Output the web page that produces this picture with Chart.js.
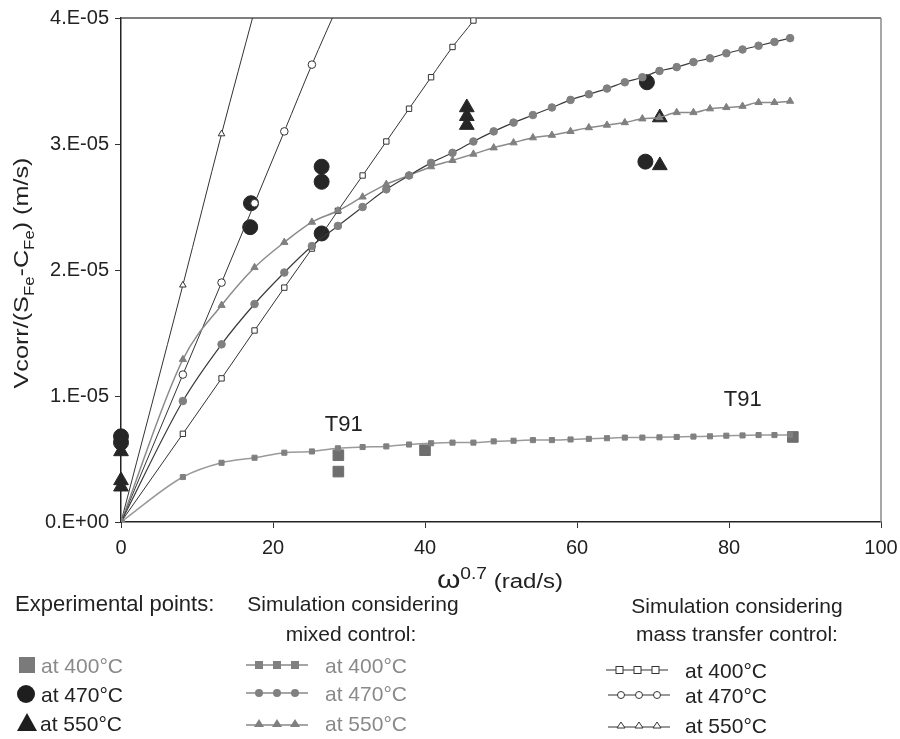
<!DOCTYPE html>
<html>
<head>
<meta charset="utf-8">
<script src="https://cdn.jsdelivr.net/npm/chart.js@4/dist/chart.umd.min.js"></script>
<style>
body { margin: 0; background: #fff; font-family: "Liberation Sans", Arial, sans-serif; }
#wrap { position: relative; width: 900px; height: 739px; overflow: hidden; }
#chart { position: absolute; left: 0; top: 0; }
.t { position: absolute; white-space: nowrap; font-size: 21px; color: #222; line-height: 1; }
.grey { color: #8a8a8a; }
.c { transform: translateX(-50%); }
.ytitle { left: 23px; top: 273px; font-size: 21px; transform: translate(-50%, -50%) rotate(-90deg) scaleX(1.2); }
.ytitle sub { font-size: 14px; }
.xtitle { left: 500px; top: 566px; font-size: 20px; transform: translateX(-50%) scaleX(1.2); }
.xtitle .w { font-size: 25px; }
.xtitle sup { font-size: 16px; vertical-align: 9px; }
svg { position: absolute; }
</style>
</head>
<body>
<div id="wrap">
  <canvas id="chart" width="900" height="739"></canvas>

  <div class="t ytitle">Vcorr/(S<sub>Fe</sub>-C<sub>Fe</sub>) (m/s)</div>
  <div class="t xtitle"><span class="w">ω</span><sup>0.7</sup> (rad/s)</div>

  <!-- legend: experimental points -->
  <div class="t" style="left:15px; top:593px; font-size:22px;">Experimental points:</div>
  <svg style="left:18px; top:656px;" width="18" height="18"><rect x="1" y="1" width="16" height="16" fill="#7a7a7a"/></svg>
  <div class="t grey" style="left:41px; top:655px;">at 400°C</div>
  <svg style="left:16px; top:684px;" width="20" height="20"><circle cx="10" cy="10" r="9" fill="#1e1e1e"/></svg>
  <div class="t" style="left:41px; top:684px;">at 470°C</div>
  <svg style="left:16px; top:712px;" width="22" height="20"><polygon points="11,1 21,19 1,19" fill="#1e1e1e"/></svg>
  <div class="t" style="left:40px; top:713px;">at 550°C</div>

  <!-- legend: mixed control -->
  <div class="t c" style="left:353px; top:593px;">Simulation considering</div>
  <div class="t c" style="left:351px; top:623px;">mixed control:</div>
  <svg style="left:246px; top:658px;" width="62" height="14">
    <line x1="0" y1="7" x2="62" y2="7" stroke="#888" stroke-width="1.5"/>
    <rect x="9" y="3" width="8" height="8" fill="#808080"/><rect x="27" y="3" width="8" height="8" fill="#808080"/><rect x="45" y="3" width="8" height="8" fill="#808080"/>
  </svg>
  <div class="t grey" style="left:325px; top:655px;">at 400°C</div>
  <svg style="left:246px; top:686px;" width="62" height="14">
    <line x1="0" y1="7" x2="62" y2="7" stroke="#888" stroke-width="1.5"/>
    <circle cx="13" cy="7" r="4" fill="#808080"/><circle cx="31" cy="7" r="4" fill="#808080"/><circle cx="49" cy="7" r="4" fill="#808080"/>
  </svg>
  <div class="t grey" style="left:325px; top:683px;">at 470°C</div>
  <svg style="left:246px; top:716px;" width="62" height="14">
    <line x1="0" y1="9" x2="62" y2="9" stroke="#888" stroke-width="1.5"/>
    <polygon points="13,3 18,11 8,11" fill="#808080"/><polygon points="31,3 36,11 26,11" fill="#808080"/><polygon points="49,3 54,11 44,11" fill="#808080"/>
  </svg>
  <div class="t grey" style="left:325px; top:713px;">at 550°C</div>

  <!-- legend: mass transfer control -->
  <div class="t c" style="left:737px; top:595px;">Simulation considering</div>
  <div class="t c" style="left:737px; top:623px;">mass transfer control:</div>
  <svg style="left:606px; top:663px;" width="62" height="14">
    <line x1="0" y1="7" x2="62" y2="7" stroke="#333" stroke-width="1"/>
    <rect x="10" y="3.5" width="7" height="7" fill="#fff" stroke="#333"/><rect x="28" y="3.5" width="7" height="7" fill="#fff" stroke="#333"/><rect x="46" y="3.5" width="7" height="7" fill="#fff" stroke="#333"/>
  </svg>
  <div class="t" style="left:685px; top:660px;">at 400°C</div>
  <svg style="left:608px; top:688px;" width="62" height="14">
    <line x1="0" y1="7" x2="62" y2="7" stroke="#333" stroke-width="1"/>
    <circle cx="13" cy="7" r="3.5" fill="#fff" stroke="#333"/><circle cx="31" cy="7" r="3.5" fill="#fff" stroke="#333"/><circle cx="49" cy="7" r="3.5" fill="#fff" stroke="#333"/>
  </svg>
  <div class="t" style="left:685px; top:685px;">at 470°C</div>
  <svg style="left:608px; top:718px;" width="62" height="14">
    <line x1="0" y1="9" x2="62" y2="9" stroke="#333" stroke-width="1"/>
    <polygon points="13,4 17,10 9,10" fill="#fff" stroke="#333"/><polygon points="31,4 35,10 27,10" fill="#fff" stroke="#333"/><polygon points="49,4 53,10 45,10" fill="#fff" stroke="#333"/>
  </svg>
  <div class="t" style="left:685px; top:715px;">at 550°C</div>
</div>

<script>
// x positions of the simulated points, omega^0.7
const omega07 = [0, 8.14, 13.23, 17.57, 21.49, 25.12, 28.54, 31.79, 34.91, 37.90, 40.80,
    43.62, 46.37, 49.04, 51.65, 54.20, 56.70, 59.15, 61.56, 63.94, 66.29,
    68.60, 70.85, 73.12, 75.32, 77.50, 79.65, 81.78, 83.89, 85.98, 88.04];

// simulation, mixed control (m/s)
const mixed400 = [0, 3.57e-6, 4.7e-6, 5.1e-6, 5.5e-6, 5.6e-6, 5.85e-6, 5.95e-6, 6.0e-6, 6.15e-6, 6.25e-6,
    6.3e-6, 6.3e-6, 6.4e-6, 6.45e-6, 6.5e-6, 6.5e-6, 6.55e-6, 6.6e-6, 6.65e-6, 6.7e-6,
    6.7e-6, 6.72e-6, 6.75e-6, 6.78e-6, 6.8e-6, 6.85e-6, 6.87e-6, 6.9e-6, 6.9e-6, 6.92e-6];
const mixed470 = [0, 9.6e-6, 14.1e-6, 17.3e-6, 19.8e-6, 21.9e-6, 23.5e-6, 25.0e-6, 26.4e-6, 27.5e-6, 28.5e-6,
    29.3e-6, 30.2e-6, 31.0e-6, 31.7e-6, 32.3e-6, 32.9e-6, 33.5e-6, 33.95e-6, 34.4e-6, 34.9e-6,
    35.3e-6, 35.8e-6, 36.1e-6, 36.5e-6, 36.8e-6, 37.2e-6, 37.5e-6, 37.8e-6, 38.1e-6, 38.4e-6];
const mixed550 = [0, 12.9e-6, 17.2e-6, 20.2e-6, 22.2e-6, 23.8e-6, 24.7e-6, 25.8e-6, 26.8e-6, 27.5e-6, 28.2e-6,
    28.7e-6, 29.2e-6, 29.7e-6, 30.1e-6, 30.5e-6, 30.7e-6, 31.0e-6, 31.3e-6, 31.5e-6, 31.7e-6,
    32.0e-6, 32.1e-6, 32.5e-6, 32.5e-6, 32.8e-6, 32.9e-6, 33.0e-6, 33.3e-6, 33.3e-6, 33.4e-6];

// simulation, mass transfer control (m/s) - leaves the plot at the top
const mass400 = [0, 7.0e-6, 11.4e-6, 15.2e-6, 18.6e-6, 21.7e-6, 24.7e-6, 27.5e-6, 30.2e-6, 32.8e-6, 35.3e-6,
    37.7e-6, 39.8e-6, 42.2e-6];
const mass470 = [0, 11.7e-6, 19.0e-6, 25.3e-6, 31.0e-6, 36.3e-6, 41.0e-6];
const mass550 = [0, 18.8e-6, 30.8e-6, 40.6e-6];

// experimental points
const exp400X = [28.6, 28.6, 40.0, 88.4];
const exp400Y = [5.3e-6, 4.0e-6, 5.7e-6, 6.75e-6];
const exp470X = [0, 0, 17.1, 17.0, 26.4, 26.4, 26.4, 69.2, 69.0];
const exp470Y = [6.8e-6, 6.3e-6, 25.3e-6, 23.4e-6, 28.2e-6, 27.0e-6, 22.9e-6, 34.9e-6, 28.6e-6];
const exp550X = [0, 0, 0, 45.5, 45.5, 45.5, 70.9, 70.9];
const exp550Y = [5.6e-6, 3.3e-6, 2.8e-6, 32.9e-6, 32.2e-6, 31.5e-6, 32.1e-6, 28.3e-6];

const yTickLabels = ["0.E+00", "1.E-05", "2.E-05", "3.E-05", "4.E-05"];
const notes = [
    { text: "T91", x: 29.3, y: 7.7e-6 },
    { text: "T91", x: 81.8, y: 9.7e-6 }
];

function pts(xs, ys) {
    return ys.map((y, i) => ({ x: xs[i], y: y }));
}

function sim(data, shape, radius, line, fill, border, width) {
    return {
        showLine: true,
        data: data,
        borderColor: line,
        borderWidth: width,
        cubicInterpolationMode: "monotone",
        pointStyle: shape,
        pointRadius: radius,
        pointBackgroundColor: fill,
        pointBorderColor: border,
        pointBorderWidth: 1
    };
}

function exper(data, shape, radius, color) {
    return {
        showLine: false,
        clip: false,
        data: data,
        pointStyle: shape,
        pointRadius: radius,
        pointBackgroundColor: color,
        pointBorderColor: color,
        pointBorderWidth: 1
    };
}

const grey = "#808080";

const extras = {
    id: "extras",
    beforeDatasetsDraw(chart) {
        const a = chart.chartArea, ctx = chart.ctx;
        ctx.save();
        ctx.strokeStyle = "#555";
        ctx.lineWidth = 1.5;
        ctx.beginPath();
        ctx.moveTo(a.left, a.top);
        ctx.lineTo(a.right, a.top);
        ctx.stroke();
        ctx.strokeStyle = "#8a8a8a";
        ctx.beginPath();
        ctx.moveTo(a.right, a.top);
        ctx.lineTo(a.right, a.bottom);
        ctx.stroke();
        ctx.restore();
    },
    afterDatasetsDraw(chart) {
        const ctx = chart.ctx, xs = chart.scales.x, ys = chart.scales.y;
        ctx.save();
        ctx.fillStyle = "#222";
        ctx.font = "22px 'Liberation Sans', Arial, sans-serif";
        ctx.textAlign = "center";
        ctx.textBaseline = "middle";
        notes.forEach(n => ctx.fillText(n.text, xs.getPixelForValue(n.x), ys.getPixelForValue(n.y)));
        ctx.restore();
    }
};

Chart.defaults.font.family = "'Liberation Sans', Arial, sans-serif";

new Chart(document.getElementById("chart"), {
    type: "scatter",
    data: {
        datasets: [
            sim(pts(omega07, mixed400), "rect", 3.6, "#9a9a9a", grey, grey, 1.5),
            sim(pts(omega07, mixed470), "circle", 3.8, "#3a3a3a", grey, grey, 1.2),
            sim(pts(omega07, mixed550), "triangle", 4.2, "#8a8a8a", grey, grey, 1.5),
            sim(pts(omega07, mass400), "rect", 3.8, "#333", "#fff", "#333", 1),
            sim(pts(omega07, mass470), "circle", 3.8, "#333", "#fff", "#333", 1),
            sim(pts(omega07, mass550), "triangle", 3.8, "#333", "#fff", "#333", 1),
            exper(pts(exp400X, exp400Y), "rect", 7.5, "#6e6e6e"),
            exper(pts(exp470X, exp470Y), "circle", 7.5, "#262626"),
            exper(pts(exp550X, exp550Y), "triangle", 8.5, "#262626")
        ]
    },
    options: {
        responsive: false,
        animation: false,
        layout: { padding: { left: 0, right: 19, top: 18, bottom: 0 } },
        plugins: {
            legend: { display: false },
            tooltip: { enabled: false }
        },
        scales: {
            x: {
                type: "linear",
                min: 0,
                max: 100,
                afterFit: s => { s.height = 217; s.paddingRight = 0; s.paddingLeft = 0; },
                ticks: { stepSize: 20, color: "#222", font: { size: 20 }, padding: 8 },
                grid: { display: true, drawOnChartArea: false, drawTicks: true, tickLength: 6, color: "#333" },
                border: { display: true, color: "#222", width: 1.5 }
            },
            y: {
                type: "linear",
                min: 0,
                max: 4e-5,
                afterFit: s => { s.width = 121; s.paddingTop = 0; s.paddingBottom = 0; },
                ticks: {
                    stepSize: 1e-5,
                    color: "#222",
                    font: { size: 20 },
                    padding: 6,
                    callback: (v, i) => yTickLabels[i]
                },
                grid: { display: true, drawOnChartArea: false, drawTicks: true, tickLength: 6, color: "#333" },
                border: { display: true, color: "#222", width: 1.5 }
            }
        }
    },
    plugins: [extras]
});
</script>
</body>
</html>
